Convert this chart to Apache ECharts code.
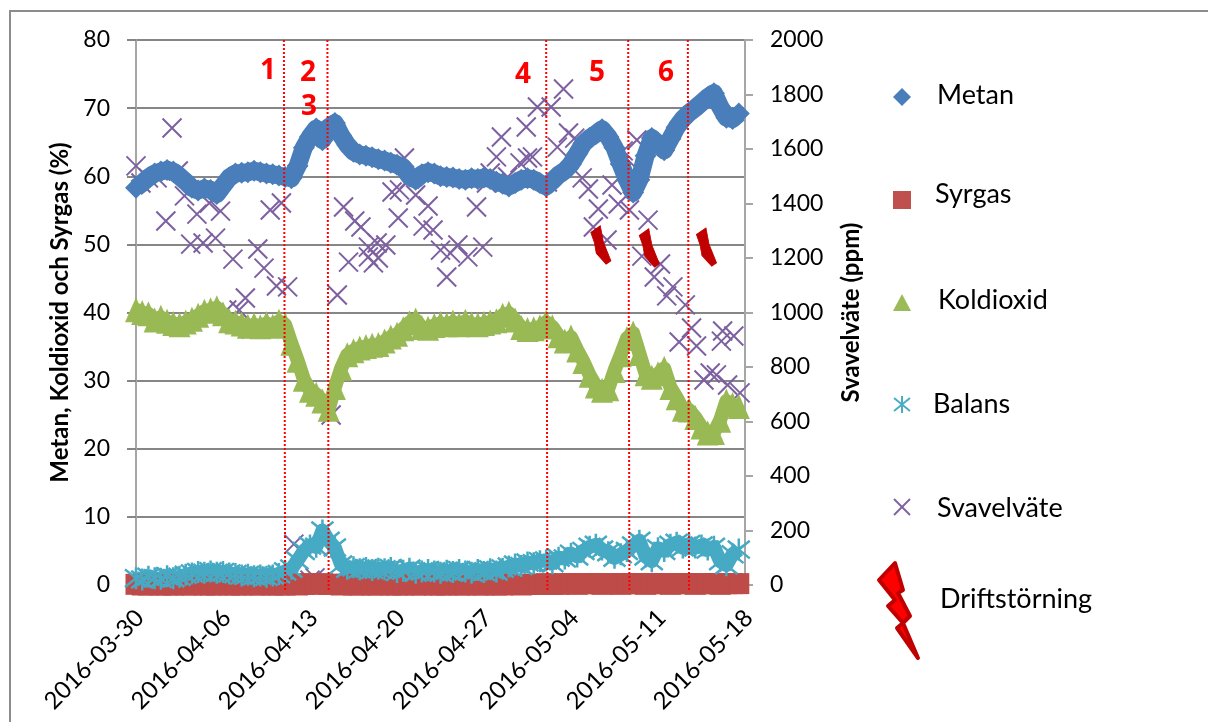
<!DOCTYPE html>
<html>
<head>
<meta charset="utf-8">
<style>html,body{margin:0;padding:0;background:#fff}#main{width:1208px;height:722px}</style>
<script src="https://cdn.jsdelivr.net/npm/echarts@6/dist/echarts.min.js"></script>
</head>
<body>
<div id="main"></div>
<script>
// x axis: days since 2016-03-30, one label per week
var tickDates = ['2016-03-30', '2016-04-06', '2016-04-13', '2016-04-20', '2016-04-27', '2016-05-04', '2016-05-11', '2016-05-18'];

// half-day samples
var metan = [58.3, 59.0, 59.8, 60.4, 60.7, 60.9, 60.7, 60.0, 59.2, 58.3, 57.9, 58.2, 58.0, 57.4, 58.6, 59.8, 60.4, 60.5, 60.6, 60.8,
    60.6, 60.4, 60.3, 60.1, 59.9, 59.7, 61.5, 64.2, 65.8, 67.0, 65.3, 67.2, 67.8, 66.0, 64.6, 63.6, 63.2, 63.0, 62.8, 62.5,
    62.3, 62.0, 61.7, 61.3, 60.0, 59.5, 60.3, 60.6, 60.4, 60.0, 59.9, 59.8, 59.6, 59.5, 59.7, 59.6, 59.8, 59.6, 59.2, 58.9,
    58.5, 59.0, 59.5, 59.7, 59.5, 59.0, 58.5, 59.3, 60.2, 60.8, 61.8, 63.3, 64.8, 65.6, 66.2, 66.9, 65.8, 64.2, 61.8, 59.5,
    57.6, 59.5, 63.0, 65.6, 64.8, 63.8, 65.5, 67.2, 68.4, 69.3, 70.0, 70.8, 71.6, 72.2, 70.2, 68.6, 68.4, 69.2];
var syrgas = [0.1, 0, 0, 0.1, 0, 0, 0, 0.1, 0, 0, 0.1, 0, 0, 0, 0.1, 0, 0, 0, 0.1, 0,
    0, 0.1, 0, 0, 0, 0.1, 0, 0.1, 0.2, 0.1, 0.2, 0.1, 0.1, 0, 0.1, 0, 0, 0.1, 0, 0,
    0.1, 0, 0, 0, 0.1, 0, 0, 0.1, 0, 0, 0, 0.1, 0, 0, 0.1, 0, 0, 0.1, 0, 0,
    0.1, 0.1, 0, 0.1, 0.1, 0.1, 0.2, 0.1, 0.1, 0.2, 0.2, 0.1, 0.2, 0.2, 0.2, 0.1, 0.2, 0.2, 0.1, 0.2,
    0.2, 0.2, 0.1, 0.2, 0.2, 0.2, 0.1, 0.2, 0.2, 0.2, 0.1, 0.2, 0.2, 0.2, 0.1, 0.2, 0.2, 0.2];
var koldioxid = [40.4, 40.0, 39.8, 38.9, 39.3, 38.7, 38.4, 38.2, 38.6, 39.0, 39.6, 40.2, 40.4, 40.7, 39.8, 38.8, 38.6, 38.3, 38.0, 38.2,
    37.9, 38.4, 38.0, 38.7, 38.2, 35.5, 33.0, 30.2, 28.6, 28.0, 27.0, 25.8, 29.0, 31.8, 33.8, 34.4, 34.8, 35.0, 35.2, 35.3,
    35.8, 36.4, 36.8, 37.6, 38.5, 38.9, 37.8, 37.7, 38.1, 38.4, 38.2, 38.6, 38.2, 38.7, 38.3, 38.2, 38.4, 38.6, 38.8, 39.6,
    39.9, 38.9, 37.8, 37.5, 37.6, 37.9, 38.6, 37.9, 36.6, 35.8, 36.4, 34.5, 32.8, 30.8, 29.2, 28.6, 28.8, 31.5, 33.8, 36.2,
    37.0, 34.0, 31.0, 30.5, 31.0, 31.8, 29.0, 27.5, 25.8, 25.7, 24.6, 23.2, 22.3, 22.4, 24.2, 27.0, 26.5, 26.2];
var balans = [1.0, 0.8, 1.2, 1.0, 0.9, 1.3, 1.0, 1.2, 1.5, 1.7, 1.9, 1.8, 2.0, 1.8, 1.9, 1.7, 1.6, 1.4, 1.5, 1.3,
    1.4, 1.2, 1.4, 1.6, 2.0, 2.4, 3.6, 5.0, 5.8, 5.6, 8.0, 6.5, 5.5, 3.0, 2.4, 2.6, 2.3, 2.5, 2.2, 2.4,
    2.3, 2.5, 1.9, 2.1, 2.4, 1.8, 2.0, 2.2, 2.0, 1.8, 2.1, 1.9, 2.2, 2.0, 1.8, 2.2, 1.9, 2.3, 2.0, 2.4,
    2.7, 3.0, 2.8, 3.3, 3.2, 3.5, 3.6, 3.2, 4.0, 3.9, 4.6, 4.2, 5.0, 5.6, 5.9, 5.2, 4.8, 4.0, 4.5, 5.0,
    5.8, 6.5, 4.2, 3.5, 5.4, 5.0, 5.9, 6.2, 5.5, 6.0, 5.5, 5.8, 5.2, 5.6, 3.5, 2.9, 4.5, 5.2];

// svavelväte was sampled irregularly, so it has its own days
var svavelDays = [0.0, 0.4, 1.0, 1.7, 2.4, 2.9, 3.4, 3.9, 4.4, 4.9, 5.4, 5.9, 6.4, 6.8, 7.3, 7.8, 8.3, 8.8, 9.3, 9.8,
    10.3, 10.8, 11.3, 11.7, 12.2, 12.7, 13.4, 14.0, 14.4, 15.0, 15.7, 16.2, 16.7, 17.1, 17.6, 18.1, 18.7, 18.7, 19.1, 19.4,
    19.5, 20.1, 20.6, 21.1, 21.2, 21.6, 22.0, 22.5, 23.1, 23.5, 23.9, 24.5, 25.0, 25.3, 25.9, 26.7, 27.4, 27.9, 28.2, 28.5,
    29.0, 29.4, 29.9, 30.9, 31.4, 31.5, 31.9, 32.3, 33.1, 33.4, 33.9, 34.4, 34.8, 35.3, 35.9, 36.4, 36.8, 37.2, 37.9, 38.3,
    38.8, 39.2, 39.7, 40.3, 40.3, 40.7, 41.2, 41.7, 42.2, 42.7, 43.2, 43.7, 44.2, 44.7, 45.1, 45.7, 46.2, 46.7, 47.1, 47.2,
    47.6, 48.1, 48.6];
var svavelPpm = [1538, 1475, 1494, 1494, 1336, 1677, 1519, 1428, 1251, 1361, 1255, 1402, 1273, 1372, 1009, 1196, 1009, 1053, 939, 1233,
    1163, 1376, 1097, 1402, 1094, 150, 7, 18, 26, 0, 624, 1064, 1387, 1185, 1336, 1314, 1240, 1204, 1182, 1255,
    1200, 1248, 1442, 1347, 1450, 1567, 1490, 1431, 1317, 1391, 1303, 1229, 1130, 1218, 1248, 1204, 1387, 1240, 1475, 1512,
    1571, 1644, 1497, 1549, 1681, 1567, 1571, 1754, 1479, 1754, 1607, 1820, 1659, 1640, 1494, 1453, 1314, 1380, 1266, 1468,
    1398, 1593, 1376, 1633, 1527, 1207, 1339, 1130, 1178, 1061, 1094, 892, 1028, 943, 877, 752, 778, 771, 895, 932,
    734, 914, 705];

// driftstörning: bolts on the right axis
var boltDays = [37.4, 41.3, 45.9];
var boltPpm = [1248, 1237, 1240];

// dotted period lines, slightly slanted in the original
var periodTop = [11.9, 15.4, 33.0, 39.6, 44.4];
var periodBottom = [12.0, 15.5, 33.1, 39.7, 44.5];

var lineNames = ['Metan', 'Syrgas', 'Koldioxid', 'Balans', 'Svavelväte', 'Driftstörning'];

// legend bolt outline in screen pixels
var boltShape = [[879, 580], [895, 563], [903, 590], [898, 593], [910, 616], [903, 623], [918, 658], [897, 628], [903, 623], [888, 606], [895, 600]];
// the small bolts in the plot are squat and fat, no notches to speak of
var smallBolt = 'path://M455 610L485 590L495 640L518 695L503 705L472 672L466 640Z';
var font = 'Lato, "Noto Sans", sans-serif';

function halfDays(values) {
    return values.map(function (v, i) {
        return [i / 2, v];
    });
}

var myChart = echarts.init(document.getElementById('main'));

function legendText(text, x, y) {
    return {
        type: 'text', x: x, y: y,
        style: { text: text, fill: '#000', font: '27px ' + font, textVerticalAlign: 'middle' }
    };
}
function periodNumber(text, x, y) {
    return {
        type: 'text', x: x, y: y, z: 20,
        style: { text: text, fill: '#ff0000', font: 'bold 28px "Open Sans", sans-serif', textAlign: 'center', textVerticalAlign: 'middle' }
    };
}
function stroke(x1, y1, x2, y2, color) {
    return {
        type: 'line',
        shape: { x1: x1, y1: y1, x2: x2, y2: y2 },
        style: { stroke: color, lineWidth: 2 }
    };
}
// the original samples are so dense they merge into a band, a wide line under the markers gives the same look
function band(name, values, symbol, size, color, width, itemStyle) {
    return {
        name: name, type: 'line', clip: false, showSymbol: true, showAllSymbol: true,
        symbol: symbol, symbolSize: size,
        lineStyle: { color: color, width: width, join: 'round' },
        itemStyle: itemStyle || { color: color, opacity: 1 },
        data: halfDays(values)
    };
}

var series = [
    band(lineNames[0], metan, 'diamond', 22, '#4a7ebb', 18),
    band(lineNames[1], syrgas, 'rect', 21, '#be4b48', 18),
    band(lineNames[2], koldioxid, 'triangle', [22, 25], '#98b954', 14),
    band(lineNames[3], balans, 'path://M5 0L5 10M0 1L10 9M0 9L10 1', 22, '#46aac4', 14,
        { color: 'transparent', borderColor: '#46aac4', borderWidth: 2.5, opacity: 1 }),
    {
        name: lineNames[4], type: 'scatter', clip: false, yAxisIndex: 1,
        symbol: 'path://M0 0L10 10M10 0L0 10', symbolSize: 19,
        itemStyle: { color: 'transparent', borderColor: '#7d60a0', borderWidth: 2, opacity: 1 },
        data: svavelDays.map(function (d, i) { return [d, svavelPpm[i]]; })
    },
    {
        name: lineNames[5], type: 'scatter', clip: false, yAxisIndex: 1, z: 8,
        symbol: smallBolt, symbolSize: [20, 38],
        itemStyle: { color: '#c00000', borderColor: '#c00000', borderWidth: 1, opacity: 1 },
        data: boltDays.map(function (d, i) { return [d, boltPpm[i]]; })
    }
];
periodTop.forEach(function (d, i) {
    series.push({
        type: 'line', clip: false, yAxisIndex: 1, z: 6, showSymbol: false, silent: true,
        lineStyle: { color: '#ff0000', type: [2, 2], width: 2 },
        data: [[d, 2000], [periodBottom[i], -25]]
    });
});

var option = {
    animation: false,
    grid: { left: 136, right: 463, top: 40, bottom: 137 },
    xAxis: {
        type: 'value', min: 0, max: 49, interval: 7,
        splitLine: { show: false },
        axisTick: { show: false },
        axisLine: { onZero: false, lineStyle: { color: '#868686', width: 2 } },
        axisLabel: {
            rotate: 45, margin: 25, color: '#000', fontSize: 24, fontFamily: font,
            verticalAlign: 'top', lineHeight: 11,
            formatter: function (v) { return tickDates[v / 7]; }
        }
    },
    yAxis: [{
        type: 'value', min: 0, max: 80, interval: 10,
        name: 'Metan, Koldioxid och Syrgas (%)',
        nameLocation: 'middle', nameGap: 60,
        nameTextStyle: { color: '#000', fontSize: 24, fontWeight: 'bold', fontFamily: font },
        axisLine: { show: true, lineStyle: { color: '#a6a6a6', width: 2 } },
        axisTick: { show: true, length: 9, lineStyle: { color: '#868686', width: 2 } },
        axisLabel: { margin: 26, color: '#000', fontSize: 23, fontFamily: font },
        splitLine: { lineStyle: { color: '#868686', width: 2 } }
    }, {
        type: 'value', min: 0, max: 2000, interval: 200,
        name: 'Svavelväte (ppm)',
        nameLocation: 'middle', nameGap: 94, nameRotate: 90,
        nameTextStyle: { color: '#000', fontSize: 24, fontWeight: 'bold', fontFamily: font },
        axisLine: { show: true, lineStyle: { color: '#a6a6a6', width: 2 } },
        axisTick: { show: true, length: 8, lineStyle: { color: '#a6a6a6', width: 2 } },
        axisLabel: {
            margin: 25, color: '#000', fontSize: 23, fontFamily: font,
            formatter: function (v) { return String(v); }
        },
        splitLine: { show: false }
    }],
    series: series,
    graphic: { elements: [
        // picture frame, open to the right and below
        { type: 'polyline', shape: { points: [[10, 722], [10, 11], [1208, 11]] }, style: { stroke: '#8c8c8c', lineWidth: 2, fill: null } },
        periodNumber('1', 268, 71),
        periodNumber('2', 308, 73),
        periodNumber('3', 309, 107),
        periodNumber('4', 523, 75),
        periodNumber('5', 597, 73),
        periodNumber('6', 666, 73),
        { type: 'polygon', shape: { points: [[893, 97], [902, 88], [911, 97], [902, 106]] }, style: { fill: '#4a7ebb' } },
        { type: 'rect', shape: { x: 893, y: 191, width: 18, height: 18 }, style: { fill: '#c0504d' } },
        { type: 'polygon', shape: { points: [[902, 294], [911, 311], [893, 311]] }, style: { fill: '#9bbb59' } },
        stroke(902, 396, 902, 413, '#4bacc6'),
        stroke(894, 398, 910, 411, '#4bacc6'),
        stroke(894, 411, 910, 398, '#4bacc6'),
        stroke(894, 499, 910, 515, '#8064a2'),
        stroke(894, 515, 910, 499, '#8064a2'),
        { type: 'polygon', shape: { points: boltShape }, style: { fill: '#ff0000', stroke: '#c00000', lineWidth: 4, lineJoin: 'round' } },
        legendText(lineNames[0], 937, 95),
        legendText(lineNames[1], 935, 194),
        legendText(lineNames[2], 938, 300),
        legendText(lineNames[3], 933, 404),
        legendText(lineNames[4], 937, 508),
        legendText(lineNames[5], 940, 599)
    ] }
};
myChart.setOption(option);
</script>
</body>
</html>
